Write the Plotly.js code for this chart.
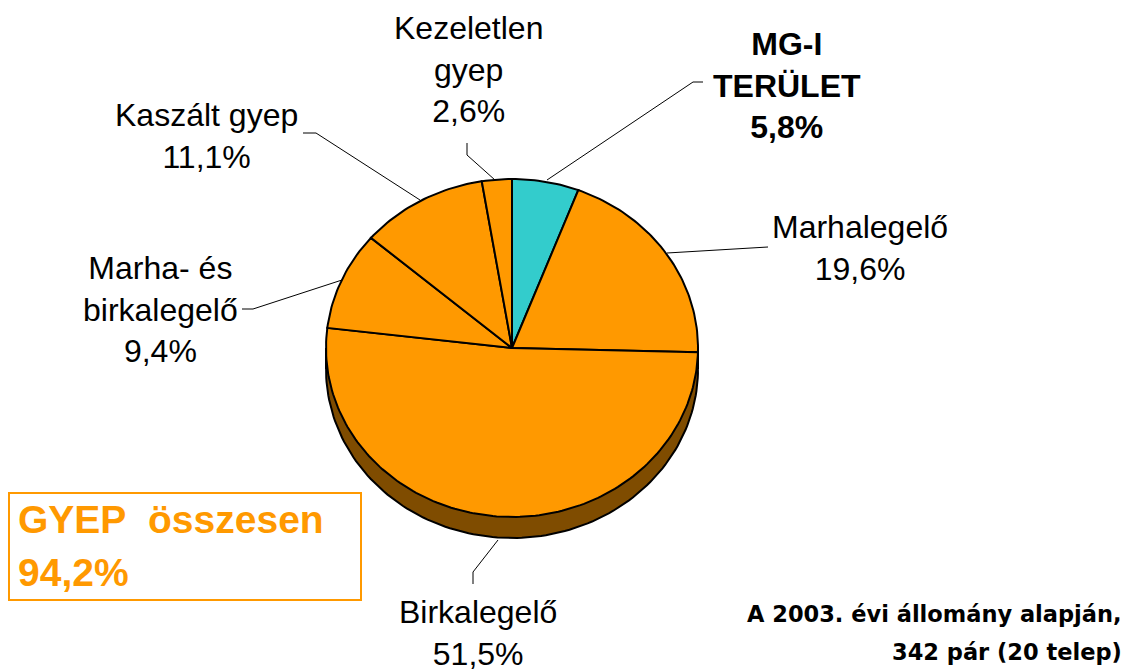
<!DOCTYPE html>
<html>
<head>
<meta charset="utf-8">
<script src="https://cdn.plot.ly/plotly-3.0.1.min.js"></script>
<style>
  html, body { margin: 0; padding: 0; background: #ffffff; }
  #chart { width: 1127px; height: 672px; }
</style>
</head>
<body>
<div id="chart"></div>
<script>
// ---- data ----
const categories = ['MG-I TERÜLET', 'Marhalegelő', 'Birkalegelő', 'Marha- és birkalegelő', 'Kaszált gyep', 'Kezeletlen gyep'];
const labelNames = ['MG-I<br>TERÜLET', 'Marhalegelő', 'Birkalegelő', 'Marha- és<br>birkalegelő', 'Kaszált gyep', 'Kezeletlen<br>gyep'];
const values = [5.8, 19.6, 51.5, 9.4, 11.1, 2.6];
const grassTitle = 'GYEP\u00a0\u00a0összesen';
const noteLines = ['A 2003. évi állomány alapján,', '342 pár (20 telep)'];

// ---- style ----
const sliceColors = ['#33CCCC', '#FF9900', '#FF9900', '#FF9900', '#FF9900', '#FF9900'];
const sideColor = '#7F4C00';
const orange = '#FF9900';
const pie = { cx: 512, cy: 348, rx: 186, ry: 169, depth: 21 };
const labelPos = [
  { x: 787, y: 85, bold: true },
  { x: 860, y: 248 },
  { x: 478, y: 633 },
  { x: 160, y: 309 },
  { x: 206, y: 136 },
  { x: 468, y: 69 }
];
const leaderPaths = [
  'M 547 180 L 693 82 L 703 82',
  'M 667 253 L 768 247',
  'M 498 540 L 473 572 L 473 584',
  'M 342 280 L 253 309 L 242 309',
  'M 420 200 L 316 133 L 303 133',
  'M 495 180 L 467 155 L 467 143'
];

function fmtPct(v) { return v.toFixed(1).replace('.', ',') + '%'; }

const total = values.reduce((a, b) => a + b, 0);
const traces = [];

// 3D side (shadow body)
(function () {
  const xs = [], ys = [];
  for (let i = 0; i <= 240; i++) {
    const t = (i / 240) * 2 * Math.PI;
    xs.push(pie.cx + pie.rx * Math.sin(t));
    ys.push(pie.cy + pie.depth - pie.ry * Math.cos(t));
  }
  traces.push({ type: 'scatter', mode: 'lines', x: xs, y: ys, fill: 'toself',
    fillcolor: sideColor, line: { color: '#000', width: 2 }, hoverinfo: 'skip' });
  traces.push({ type: 'scatter', mode: 'lines',
    x: [pie.cx - pie.rx, pie.cx - pie.rx, null, pie.cx + pie.rx, pie.cx + pie.rx],
    y: [pie.cy, pie.cy + pie.depth, null, pie.cy, pie.cy + pie.depth],
    line: { color: '#000', width: 2 }, hoverinfo: 'skip' });
})();

// top face slices, clockwise from 12 o'clock
let cum = 0;
values.forEach((v, k) => {
  const a0 = cum / total * 2 * Math.PI;
  const a1 = (cum + v) / total * 2 * Math.PI;
  cum += v;
  const n = Math.max(4, Math.ceil((a1 - a0) / (2 * Math.PI) * 300));
  const xs = [pie.cx], ys = [pie.cy];
  for (let i = 0; i <= n; i++) {
    const t = a0 + (a1 - a0) * i / n;
    xs.push(pie.cx + pie.rx * Math.sin(t));
    ys.push(pie.cy - pie.ry * Math.cos(t));
  }
  xs.push(pie.cx); ys.push(pie.cy);
  traces.push({ type: 'scatter', mode: 'lines', x: xs, y: ys, fill: 'toself',
    fillcolor: sliceColors[k], line: { color: '#000', width: 2 },
    name: categories[k], hoverinfo: 'name' });
});

const annotations = values.map((v, k) => {
  let txt = labelNames[k] + '<br>' + fmtPct(v);
  if (labelPos[k].bold) txt = '<b>' + txt + '</b>';
  return { x: labelPos[k].x, y: labelPos[k].y, xref: 'x', yref: 'y', text: txt,
    showarrow: false, xanchor: 'center', yanchor: 'middle', align: 'center',
    font: { family: 'Liberation Sans, Arial, sans-serif', size: 32, color: '#000' } };
});

const grassTotal = values.slice(1).reduce((a, b) => a + b, 0);
annotations.push({ x: 16, y: 519, xref: 'x', yref: 'y', text: '<b>' + grassTitle + '</b>',
  showarrow: false, xanchor: 'left', yanchor: 'middle', align: 'left',
  font: { family: 'Liberation Sans, Arial, sans-serif', size: 39, color: orange } });
annotations.push({ x: 16, y: 572, xref: 'x', yref: 'y', text: '<b>' + fmtPct(grassTotal) + '</b>',
  showarrow: false, xanchor: 'left', yanchor: 'middle', align: 'left',
  font: { family: 'Liberation Sans, Arial, sans-serif', size: 39, color: orange } });
annotations.push({ x: 1124, y: 614, xref: 'x', yref: 'y', text: '<b>' + noteLines[0] + '</b>',
  showarrow: false, xanchor: 'right', yanchor: 'middle', align: 'right',
  font: { family: 'DejaVu Sans, sans-serif', size: 22.5, color: '#000' } });
annotations.push({ x: 1124, y: 652, xref: 'x', yref: 'y', text: '<b>' + noteLines[1] + '</b>',
  showarrow: false, xanchor: 'right', yanchor: 'middle', align: 'right',
  font: { family: 'DejaVu Sans, sans-serif', size: 22.5, color: '#000' } });

const shapes = leaderPaths.map(p => ({ type: 'path', path: p, xref: 'x', yref: 'y',
  line: { color: '#000', width: 1 } }));
shapes.push({ type: 'rect', xref: 'x', yref: 'y', x0: 9, x1: 361, y0: 493, y1: 600,
  line: { color: orange, width: 2 }, fillcolor: 'rgba(0,0,0,0)' });

const layout = {
  width: 1127, height: 672,
  margin: { l: 0, r: 0, t: 0, b: 0 },
  paper_bgcolor: '#ffffff', plot_bgcolor: '#ffffff',
  showlegend: false,
  xaxis: { range: [0, 1127], visible: false, fixedrange: true },
  yaxis: { range: [672, 0], visible: false, fixedrange: true },
  annotations: annotations,
  shapes: shapes
};

Plotly.newPlot('chart', traces, layout, { displayModeBar: false, staticPlot: true });
</script>
</body>
</html>
